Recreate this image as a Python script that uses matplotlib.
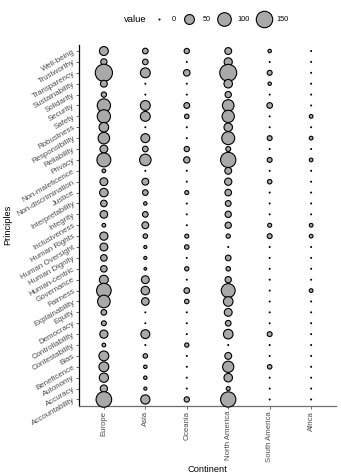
import numpy as np
import matplotlib
matplotlib.use("Agg")
import matplotlib.pyplot as plt

plt.rcParams['font.family'] = ['Liberation Sans', 'DejaVu Sans']

DPI = 100
EDGE = 0.8  # marker edge width in points

continents = ["Europe", "Asia", "Oceania", "North America", "South America", "Africa"]

# listed from top row to bottom row (alphabetical order reversed)
principles = [
    "Well-being", "Trustworthy", "Transparency", "Sustainability", "Solidarity",
    "Security", "Safety", "Robustness", "Responsibility", "Reliability",
    "Privacy", "Non-maleficence", "Non-discrimination", "Justice", "Interpretability",
    "Integrity", "Inclusiveness", "Human Rights", "Human Oversight", "Human Dignity",
    "Human-centric", "Governance", "Fairness", "Explainability", "Equity",
    "Democracy", "Controllability", "Contestability", "Bias", "Beneficence",
    "Autonomy", "Accuracy", "Accountability",
]

europe = [40, 18, 165, 22, 12, 95, 95, 47, 70, 30, 105, 5, 30, 36, 20, 28, 5,
          33, 30, 20, 20, 40, 116, 85, 14, 10, 33, 5, 50, 50, 43, 25, 134]
asia = [14, 14, 50, 0, 0, 50, 50, 0, 40, 14, 70, 0, 22, 14, 4, 14, 22,
        8, 3, 3, 2, 30, 36, 28, 0, 0, 40, 0, 8, 4, 4, 3, 43]
oceania = [12, 0, 20, 0, 0, 15, 8, 0, 0, 12, 18, 0, 0, 6, 0, 0, 0,
           6, 8, 0, 7, 0, 14, 8, 0, 0, 0, 7, 0, 0, 0, 0, 12]
north_america = [22, 33, 160, 36, 18, 71, 80, 36, 90, 10, 128, 22, 25, 20, 15, 18, 18,
                 7, 0, 14, 8, 18, 105, 47, 30, 14, 47, 0, 22, 66, 36, 6, 128]
south_america = [4, 0, 10, 4, 0, 14, 0, 0, 10, 0, 10, 0, 8, 0, 0, 0, 6,
                 10, 0, 0, 0, 0, 0, 0, 0, 0, 10, 0, 0, 8, 0, 0, 0]
africa = [0, 0, 0, 0, 0, 0, 5, 0, 5, 0, 5, 0, 0, 0, 0, 0, 5,
          5, 0, 0, 0, 0, 5, 0, 0, 0, 0, 0, 0, 0, 0, 0, 0]

legend_values = [0, 50, 100, 150]


def marker_area(v):
    # outer diameter in pixels grows with sqrt(value), like an area scale
    d_px = 2.0 + 1.27 * np.sqrt(np.asarray(v, dtype=float))
    d_pt = d_px * 72.0 / DPI
    return np.maximum(d_pt - EDGE, 0.3) ** 2


series = [europe, asia, oceania, north_america, south_america, africa]
n_rows = len(principles)
ypos = np.arange(n_rows)[::-1]  # top row gets the highest position

fig = plt.figure(figsize=(341 / DPI, 476 / DPI), dpi=DPI)
ax = fig.add_axes([79 / 341, 1 - 406 / 476, (336 - 79) / 341, (406 - 44.5) / 476])

for i, vals in enumerate(series):
    ax.scatter(np.full(n_rows, i), ypos, s=marker_area(vals),
               facecolor="darkgray", edgecolor="black", linewidth=EDGE, zorder=3,
               clip_on=False)

ax.set_xlim(-0.6, len(continents) - 0.4)
ax.set_ylim(-0.6, n_rows - 0.4)

ax.set_xticks(range(len(continents)))
ax.set_xticklabels(continents, rotation=90, fontsize=5.6, color="#4d4d4d")
ax.set_yticks(ypos)
ax.set_yticklabels(principles, rotation=30, ha="right", va="center",
                   rotation_mode="anchor", fontsize=5.7, color="#4d4d4d")
ax.tick_params(axis="both", length=2, width=0.5, pad=1.5, colors="#333333")
ax.tick_params(axis="both", labelcolor="#4d4d4d")

for side in ("top", "right"):
    ax.spines[side].set_visible(False)
ax.spines["left"].set_color("black")
ax.spines["left"].set_linewidth(0.9)
ax.spines["bottom"].set_color("#6e6e6e")
ax.spines["bottom"].set_linewidth(0.9)

fig.text(8 / 341, 1 - 225 / 476, "Principles", rotation=90, ha="center", va="center",
         fontsize=6.7)
fig.text(207.5 / 341, 1 - 470 / 476, "Continent", ha="center", va="center", fontsize=6.7)

# size legend along the top
handles = [ax.scatter([], [], s=marker_area(v), facecolor="darkgray",
                      edgecolor="black", linewidth=EDGE) for v in legend_values]
fig.legend(handles, [str(v) for v in legend_values], ncol=4, frameon=False,
           loc="center", bbox_to_anchor=(220 / 341, 1 - 19.5 / 476),
           fontsize=5.3, handlelength=2.0, handletextpad=0.75, columnspacing=0.9,
           borderpad=0, labelcolor="black")
fig.text(135 / 341, 1 - 19.5 / 476, "value", ha="center", va="center", fontsize=6.8)

fig.savefig("out.png", dpi=DPI)
